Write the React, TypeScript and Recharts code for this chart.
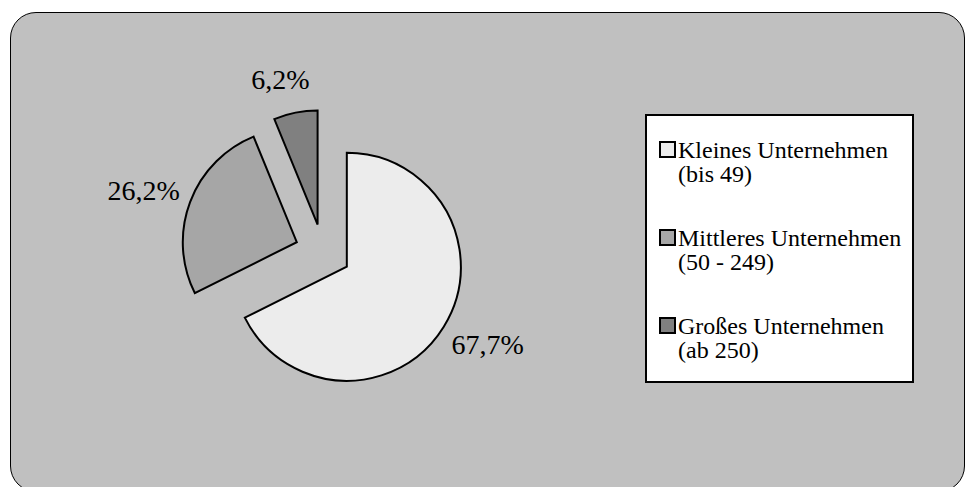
import React from "react";
import { Cell, Legend, Pie, PieChart } from "recharts";

const categories = ["Kleines Unternehmen", "Mittleres Unternehmen", "Großes Unternehmen"];
const subLabels = ["(bis 49)", "(50 - 249)", "(ab 250)"];
const shares = [67.7, 26.2, 6.2];
const colors = ["#ececec", "#a6a6a6", "#808080"];

const W = 968;
const H = 487;
const CX = 323;
const CY = 252;
const RADIUS = 114;
const EXPLODE = 28;
const FONT = '"Liberation Serif", "Times New Roman", serif';
const RAD = Math.PI / 180;

const data = categories.map((name, i) => ({ name, value: shares[i] }));
const total = shares.reduce((a, b) => a + b, 0);

// mid angle per slice (recharts convention: degrees ccw from 3 o'clock, start at 12, clockwise)
const midAngles = shares.map((v, i) => {
  const before = shares.slice(0, i).reduce((a, b) => a + b, 0);
  return 90 - (360 * (before + v / 2)) / total;
});

const fmtPct = (v: number) => v.toFixed(1).replace(".", ",") + "%";

function makeLabel(visible: number) {
  return (props: any) => {
    if (props.index !== visible) return null;
    const a = props.midAngle * RAD;
    const cos = Math.cos(a);
    const sin = Math.sin(a);
    const text = fmtPct(props.value);
    const w = text.length * 0.52 * 28;
    const r = props.outerRadius + 12;
    // push the text box outward so its edge sits just off the rim
    const x = props.cx + r * cos + (w / 2) * Math.sign(cos) * Math.sqrt(Math.abs(cos));
    const y = props.cy - r * sin - 22 * sin;
    return (
      <text
        x={x}
        y={y}
        textAnchor="middle"
        dominantBaseline="central"
        fontFamily={FONT}
        fontSize={28}
        fill="#000"
      >
        {text}
      </text>
    );
  };
}

function LegendBox() {
  return (
    <div
      style={{
        boxSizing: "border-box",
        width: 269,
        height: 269,
        background: "#fff",
        border: "2px solid #000",
        padding: "22px 0 0 12px",
        fontFamily: FONT,
        fontSize: 24,
        lineHeight: "24px",
        color: "#000",
        textAlign: "left",
      }}
    >
      {categories.map((c, i) => (
        <div key={c} style={{ display: "flex", alignItems: "flex-start", marginBottom: 40 }}>
          <div
            style={{
              boxSizing: "border-box",
              width: 17,
              height: 17,
              marginTop: 3,
              marginRight: 2,
              background: colors[i],
              border: "2px solid #000",
              flex: "none",
            }}
          />
          <div>
            <div style={{ whiteSpace: "nowrap" }}>{c}</div>
            <div>{subLabels[i]}</div>
          </div>
        </div>
      ))}
    </div>
  );
}

export default function App() {
  return (
    <div
      style={{
        position: "absolute",
        left: 0,
        top: 0,
        width: W,
        height: H,
        overflow: "hidden",
        background: "#fff",
      }}
    >
      <div
        style={{
          position: "absolute",
          left: 10,
          top: 12,
          width: 955,
          height: 480,
          boxSizing: "border-box",
          background: "#c0c0c0",
          border: "1px solid #000",
          borderRadius: 26,
        }}
      />
      <div style={{ position: "absolute", left: 0, top: 0 }}>
        <PieChart width={W} height={H} margin={{ top: 0, right: 0, bottom: 0, left: 0 }}>
          {shares.map((_, k) => (
            <Pie
              key={k}
              data={data}
              dataKey="value"
              nameKey="name"
              cx={CX + EXPLODE * Math.cos(midAngles[k] * RAD)}
              cy={CY - EXPLODE * Math.sin(midAngles[k] * RAD)}
              outerRadius={RADIUS}
              startAngle={90}
              endAngle={-270}
              stroke="#000"
              strokeWidth={2}
              isAnimationActive={false}
              labelLine={false}
              label={makeLabel(k)}
            >
              {data.map((d, i) => (
                <Cell
                  key={d.name}
                  fill={i === k ? colors[i] : "none"}
                  stroke={i === k ? "#000" : "none"}
                />
              ))}
            </Pie>
          ))}
          <Legend
            layout="vertical"
            wrapperStyle={{ left: 645, top: 114, width: 269, height: 269 }}
            content={() => <LegendBox />}
          />
        </PieChart>
      </div>
    </div>
  );
}
